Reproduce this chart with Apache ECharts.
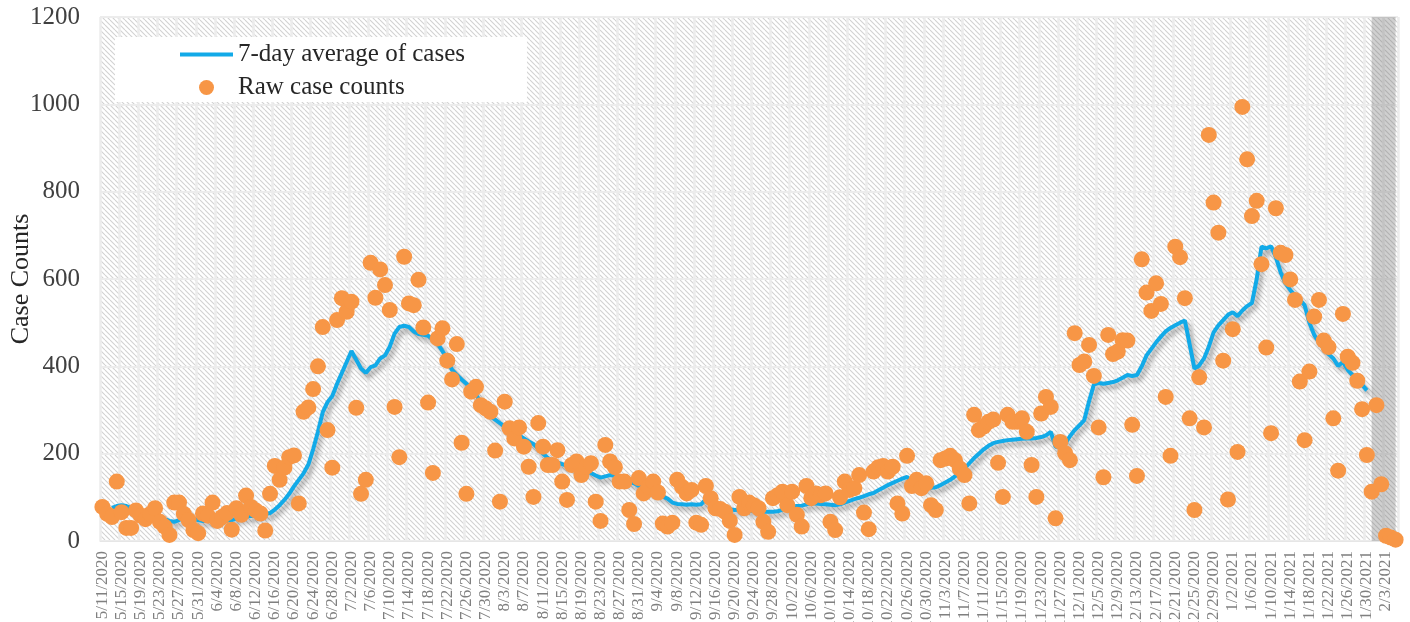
<!DOCTYPE html>
<html>
<head>
<meta charset="utf-8">
<script src="https://cdn.jsdelivr.net/npm/echarts@6/dist/echarts.min.js"></script>
<style>
  html, body { margin: 0; padding: 0; background: #fff; }
  #chart { width: 1410px; height: 622px; }
</style>
</head>
<body>
<div id="chart"></div>
<script>
// daily categories, 5/11/2020 .. 2/5/2021
const startDay = new Date(2020, 4, 11);
const dayCount = 271;
const categories = [];
for (let i = 0; i < dayCount; i++) {
  const d = new Date(startDay.getFullYear(), startDay.getMonth(), startDay.getDate() + i);
  categories.push((d.getMonth() + 1) + '/' + d.getDate() + '/' + d.getFullYear());
}

const rawCounts = [
  78, 62, 55, 136, 66, 30, 30, 70, 58, 50,
  62, 75, 44, 33, 14, 88, 88, 62, 48, 25,
  18, 63, 58, 88, 46, 55, 64, 26, 75, 60,
  104, 78, 70, 63, 24, 108, 172, 140, 168, 192,
  196, 86, 296, 306, 348, 400, 490, 254, 168, 506,
  556, 525, 548, 305, 108, 140, 637, 557, 622, 586,
  529, 307, 192, 651, 544, 540, 598, 489, 317, 156,
  464, 487, 413, 370, 451, 225, 108, 342, 353, 311,
  304, 296, 207, 90, 319, 258, 235, 260, 216, 170,
  101, 270, 216, 174, 174, 208, 136, 94, 174, 182,
  151, 170, 178, 90, 46, 220, 182, 169, 136, 136,
  71, 39, 144, 109, 124, 136, 111, 40, 33, 42,
  140, 124, 109, 117, 42, 37, 126, 98, 75, 73,
  67, 46, 14, 101, 75, 88, 82, 75, 44, 21,
  98, 105, 113, 82, 113, 60, 33, 126, 98, 109,
  105, 109, 44, 25, 100, 136, 117, 121, 151, 65,
  27, 159, 169, 172, 159, 170, 86, 63, 195, 126,
  140, 121, 132, 82, 71, 185, 189, 195, 185, 166,
  151, 86, 289, 254, 262, 273, 278, 179, 101, 289,
  273, 273, 281, 250, 174, 101, 292, 330, 307, 52,
  227, 201, 185, 476, 403, 411, 449, 378, 260, 146,
  472, 428, 434, 460, 459, 266, 149, 645, 569, 527,
  590, 543, 330, 195, 674, 650, 556, 281, 71, 375,
  260, 930, 775, 706, 413, 95, 485, 204, 994, 874,
  744, 779, 634, 443, 247, 762, 660, 655, 599, 552,
  365, 231, 388, 514, 552, 459, 444, 281, 161, 520,
  422, 408, 367, 302, 197, 113, 311, 130, 12, 8, 3
];

const avgCounts = [
  null, null, 76, 80, 82, 80, 76, 72, 68, 64,
  62, 60, 56, 50, 46, 44, 48, 54, 56, 52,
  48, 46, 47, 50, 52, 50, 47, 48, 52, 55,
  56, 57, 58, 60, 62, 64, 72, 82, 94, 108,
  125, 140, 155, 175, 210, 250, 295, 318, 332, 360,
  385, 410, 435, 415, 395, 385, 398, 402, 418, 425,
  445, 475, 490, 493, 490, 480, 474, 472, 470, 462,
  452, 435, 415, 392, 380, 370, 360, 350, 335, 318,
  300, 286, 278, 270, 262, 255, 250, 242, 235, 228,
  222, 212, 200, 190, 184, 180, 176, 172, 170, 166,
  163, 160, 156, 150, 145, 148, 151, 150, 145, 140,
  136, 132, 126, 120, 114, 110, 106, 102, 97, 88,
  85, 84, 83, 84, 83, 84, 96, 90, 84, 78,
  75, 73, 71, 72, 74, 70, 68, 67, 67, 67,
  67, 68, 72, 76, 79, 80, 81, 84, 86, 86,
  85, 84, 83, 82, 84, 88, 92, 96, 99, 103,
  107, 110, 116, 122, 128, 133, 138, 143, 147, 136,
  126, 124, 123, 122, 123, 128, 134, 140, 148, 156,
  166, 178, 190, 200, 210, 218, 224, 227, 229, 231,
  232, 233, 234, 235, 235, 236, 238, 242, 250, 216,
  215, 222, 240, 254, 265, 277, 320, 358, 362, 360,
  362, 364, 368, 374, 380, 378, 380, 400, 425, 440,
  455, 468, 480, 488, 494, 500, 505, 450, 395, 402,
  418, 445, 478, 494, 506, 518, 524, 515, 528, 538,
  545, 600, 674, 670, 675, 650, 615, 590, 575, 562,
  552, 540, 500, 472, 455, 440, 428, 418, 401, 410,
  392, 380, 370, 358, 345, null, null, null, null, null, null
];

const yTicks = { min: 0, max: 1200, step: 200 };
const shadedRange = ['1/31/2021', '2/5/2021'];

// diagonal hatch used as the plot background
function hatch() {
  const s = 5;
  const c = document.createElement('canvas');
  c.width = s;
  c.height = s;
  const ctx = c.getContext('2d');
  ctx.fillStyle = '#ffffff';
  ctx.fillRect(0, 0, s, s);
  ctx.strokeStyle = '#d2d2d2';
  ctx.lineWidth = 1.1;
  [-s, 0, s].forEach(function (k) {
    ctx.beginPath();
    ctx.moveTo(0, k);
    ctx.lineTo(s, k + s);
    ctx.stroke();
  });
  return c;
}

const font = "'Liberation Serif', 'DejaVu Serif', serif";
const chart = echarts.init(document.getElementById('chart'));

chart.setOption({
  animation: false,
  textStyle: { fontFamily: font },
  grid: {
    left: 100, right: 12, top: 17, bottom: 81,
    containLabel: false,
    outerBoundsMode: 'none',
    show: true,
    borderWidth: 0,
    backgroundColor: { image: hatch(), repeat: 'repeat' }
  },
  legend: {
    orient: 'vertical',
    left: 115,
    top: 37,
    backgroundColor: '#fff',
    padding: [5, 62, 2, 65],
    itemWidth: 53,
    itemHeight: 15,
    itemGap: 8,
    textStyle: { fontFamily: font, fontSize: 25, color: '#262626' },
    data: [
      { name: '7-day average of cases', icon: 'path://M0,0L53,0L53,4L0,4Z' },
      { name: 'Raw case counts', icon: 'circle' }
    ]
  },
  xAxis: {
    type: 'category',
    data: categories,
    boundaryGap: true,
    axisLine: { show: true, lineStyle: { color: '#e6e6e6', width: 1 } },
    axisTick: { show: false },
    axisLabel: {
      interval: 3,
      rotate: 90,
      margin: 10,
      fontSize: 17,
      color: '#808080',
      fontFamily: font
    },
    splitLine: {
      show: true,
      interval: 3,
      lineStyle: { color: '#ececec', width: 2.5 }
    }
  },
  yAxis: {
    type: 'value',
    min: yTicks.min,
    max: yTicks.max,
    interval: yTicks.step,
    name: 'Case Counts',
    nameLocation: 'middle',
    nameGap: 66,
    nameMoveOverlap: false,
    nameTextStyle: { fontFamily: font, fontSize: 26, color: '#262626' },
    axisLine: { show: false },
    axisTick: { show: false },
    axisLabel: {
      margin: 20,
      fontSize: 25,
      color: '#404040',
      fontFamily: font,
      formatter: function (v) { return String(v); }
    },
    splitLine: { show: true, lineStyle: { color: '#ececec', width: 2 } }
  },
  series: [
    {
      name: '7-day average of cases',
      type: 'line',
      data: avgCounts,
      symbol: 'none',
      z: 2,
      itemStyle: { color: '#12aae8' },
      lineStyle: {
        color: '#12aae8',
        width: 4,
        shadowColor: 'rgba(0,0,0,0.35)',
        shadowBlur: 5,
        shadowOffsetX: 3,
        shadowOffsetY: 4
      }
    },
    {
      name: 'Raw case counts',
      type: 'scatter',
      data: rawCounts,
      symbolSize: 16,
      z: 3,
      itemStyle: { color: '#f79646', opacity: 1 }
    },
    {
      // grey band over the last days
      name: 'band',
      type: 'line',
      data: [],
      z: 10,
      markArea: {
        silent: true,
        itemStyle: { color: 'rgba(120,120,120,0.35)' },
        data: [[{ xAxis: shadedRange[0] }, { xAxis: shadedRange[1] }]]
      }
    }
  ]
});
</script>
</body>
</html>
